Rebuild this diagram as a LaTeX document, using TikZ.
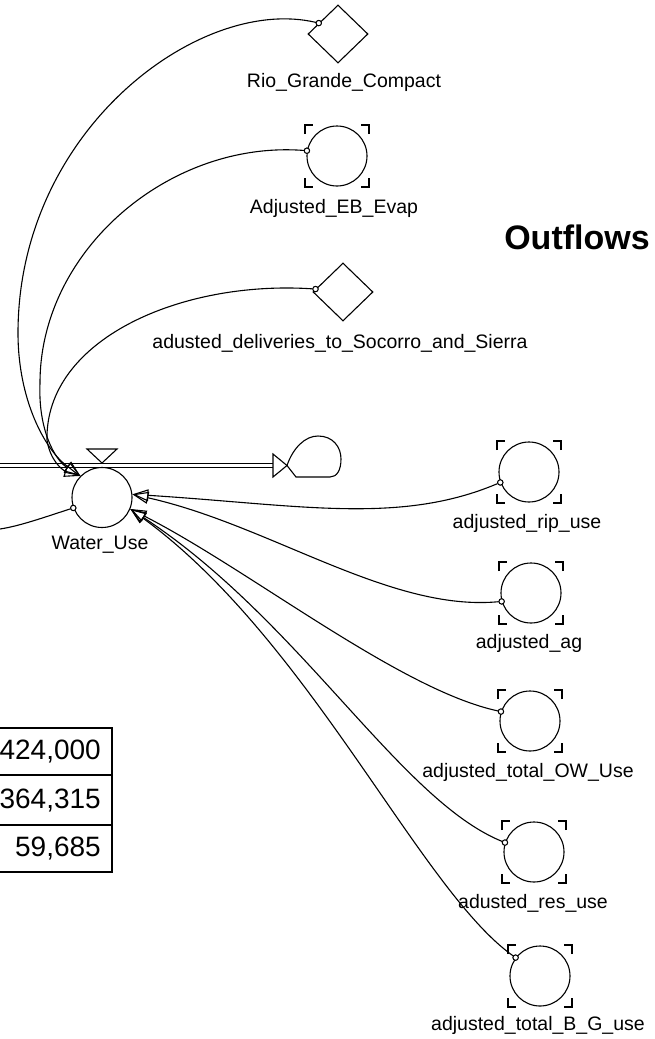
\documentclass[tikz,border=0pt]{standalone}
\usepackage{fontspec}
\setmainfont{Liberation Sans}
\usetikzlibrary{arrows.meta,shapes.geometric,calc}
\newcommand\auxbr[1]{%
  \draw[brk] ($(#1)+(-32,-22)$) -- ($(#1)+(-32,-31)$) -- ($(#1)+(-24,-31)$);
  \draw[brk] ($(#1)+(32,-22)$) -- ($(#1)+(32,-31)$) -- ($(#1)+(24,-31)$);
  \draw[brk] ($(#1)+(-32,22)$) -- ($(#1)+(-32,31)$) -- ($(#1)+(-24,31)$);
  \draw[brk] ($(#1)+(32,22)$) -- ($(#1)+(32,31)$) -- ($(#1)+(24,31)$);}
\begin{document}
\begin{tikzpicture}[x=1pt,y=-1pt,
  lab/.style={font=\fontsize{19.5}{22}\selectfont, inner sep=0pt},
  tab/.style={font=\fontsize{28}{30}\selectfont, inner sep=0pt, anchor=east},
  auxc/.style={circle, draw, line width=1.1pt, minimum size=60pt, inner sep=0pt},
  conv/.style={diamond, draw, line width=1.1pt, minimum width=60pt, minimum height=58pt, inner sep=0pt},
  conn/.style={line width=1.1pt, -{Triangle[open,length=16pt,width=12pt,line width=1.1pt]}},
  plain/.style={line width=1.1pt},
  brk/.style={line width=1.1pt},
  dotc/.style={circle, draw, fill=white, line width=1pt, minimum size=5pt, inner sep=0pt}]
\useasboundingbox (0,0) rectangle (654,1039);

% converters and auxiliaries
\node[conv] (rio) at (338,34) {};
\node[lab] (rioL) at (344,82) {Rio\_Grande\_Compact};
\node[auxc] (eb) at (337,156) {};
\auxbr{eb}
\node[lab] (ebL) at (334,208) {Adjusted\_EB\_Evap};
\node[conv] (del) at (343,292) {};
\node[lab] (delL) at (340,343) {adusted\_deliveries\_to\_Socorro\_and\_Sierra};
\node[font=\fontsize{34}{36}\selectfont\bfseries, inner sep=0pt] (title) at (577,237) {Outflows};

\node[auxc] (rip) at (529,472) {};
\auxbr{rip}
\node[lab] (ripL) at (527,523) {adjusted\_rip\_use};
\node[auxc] (ag) at (531,593) {};
\auxbr{ag}
\node[lab] (agL) at (529,643) {adjusted\_ag};
\node[auxc] (ow) at (530,721) {};
\auxbr{ow}
\node[lab] (owL) at (528,772) {adjusted\_total\_OW\_Use};
\node[auxc] (res) at (534,852) {};
\auxbr{res}
\node[lab] (resL) at (533,903) {adusted\_res\_use};
\node[auxc] (bg) at (540,976) {};
\auxbr{bg}
\node[lab] (bgL) at (538,1025) {adjusted\_total\_B\_G\_use};

% flow
\coordinate (pipeStart) at (0,465.5);
\coordinate (pipeEnd) at (273,465.5);
\draw[double, double distance=3pt, line width=1pt] (pipeStart) -- (pipeEnd);
\draw[plain, fill=white] (273,454) -- (287,465.5) -- (273,477) -- cycle;
\coordinate (cloud) at (287,465.5);
\draw[plain] (cloud) .. controls (293,448) and (305,436) .. (318,436)
  .. controls (333,436) and (341,447) .. (341,459)
  .. controls (341,470) and (337,477) .. (330,477) -- (296,477) -- (cloud);
\node[auxc] (wu) at (102,497.5) {};
\draw[plain, fill=white] (87,449) -- (117,449) -- (102,463) -- cycle;
\node[lab] (wuL) at (100,545) {Water\_Use};

% dots
\node[dotc] (rioDot) at ($(rio.west)!0.37!(rio.north)$) {};
\node[dotc] (ebDot) at (eb.170) {};
\node[dotc] (delDot) at ($(del.west)!0.1!(del.north)$) {};
\node[dotc] (ripDot) at (rip.200) {};
\node[dotc] (agDot) at (ag.196) {};
\node[dotc] (owDot) at (ow.162) {};
\node[dotc] (resDot) at (res.162) {};
\node[dotc] (bgDot) at (bg.143) {};
\node[dotc] (wuDot) at (wu.200) {};
\coordinate (leftEnd) at (0,529);

% connectors
\draw[conn] (rioDot) .. controls (200,-5) and (18,130) .. (18,333)
  .. controls (18,400) and (45,450) .. (wu.135);
\draw[conn] (ebDot) .. controls (170,140) and (40,250) .. (40,383)
  .. controls (38,430) and (55,460) .. (wu.135);
\draw[conn] (delDot) .. controls (180,280) and (45,340) .. (47,440)
  .. controls (50,460) and (62,470) .. (wu.135);
\draw[conn] (ripDot) .. controls (400,525) and (300,505) .. (wu.6);
\draw[conn] (agDot) .. controls (390,612) and (270,525) .. (wu.6);
\draw[conn] (owDot) .. controls (400,690) and (250,570) .. (wu.-22);
\draw[conn] (resDot) .. controls (400,800) and (300,620) .. (wu.-22);
\draw[conn] (bgDot) .. controls (420,890) and (310,640) .. (wu.-22);
\draw[plain] (wuDot) .. controls (45,517) and (20,526) .. (leftEnd);

% dots on top
\foreach \d in {rioDot,ebDot,delDot,ripDot,agDot,owDot,resDot,bgDot,wuDot}
  \draw[line width=1pt, fill=white] (\d) circle (2.7);

% table
\coordinate (tTL) at (0,728);
\coordinate (tTR) at (112,728);
\coordinate (tBR) at (112,872);
\draw[line width=1.3pt] (tTL) -- (tTR) -- (tBR) -- (0,872);
\draw[line width=1.3pt] (0,775) -- (112,775);
\draw[line width=1.3pt] (0,825) -- (112,825);
\node[tab] (v1) at (101,752) {424,000};
\node[tab] (v2) at (101,801) {364,315};
\node[tab] (v3) at (101,849) {59,685};
\end{tikzpicture}
\end{document}
